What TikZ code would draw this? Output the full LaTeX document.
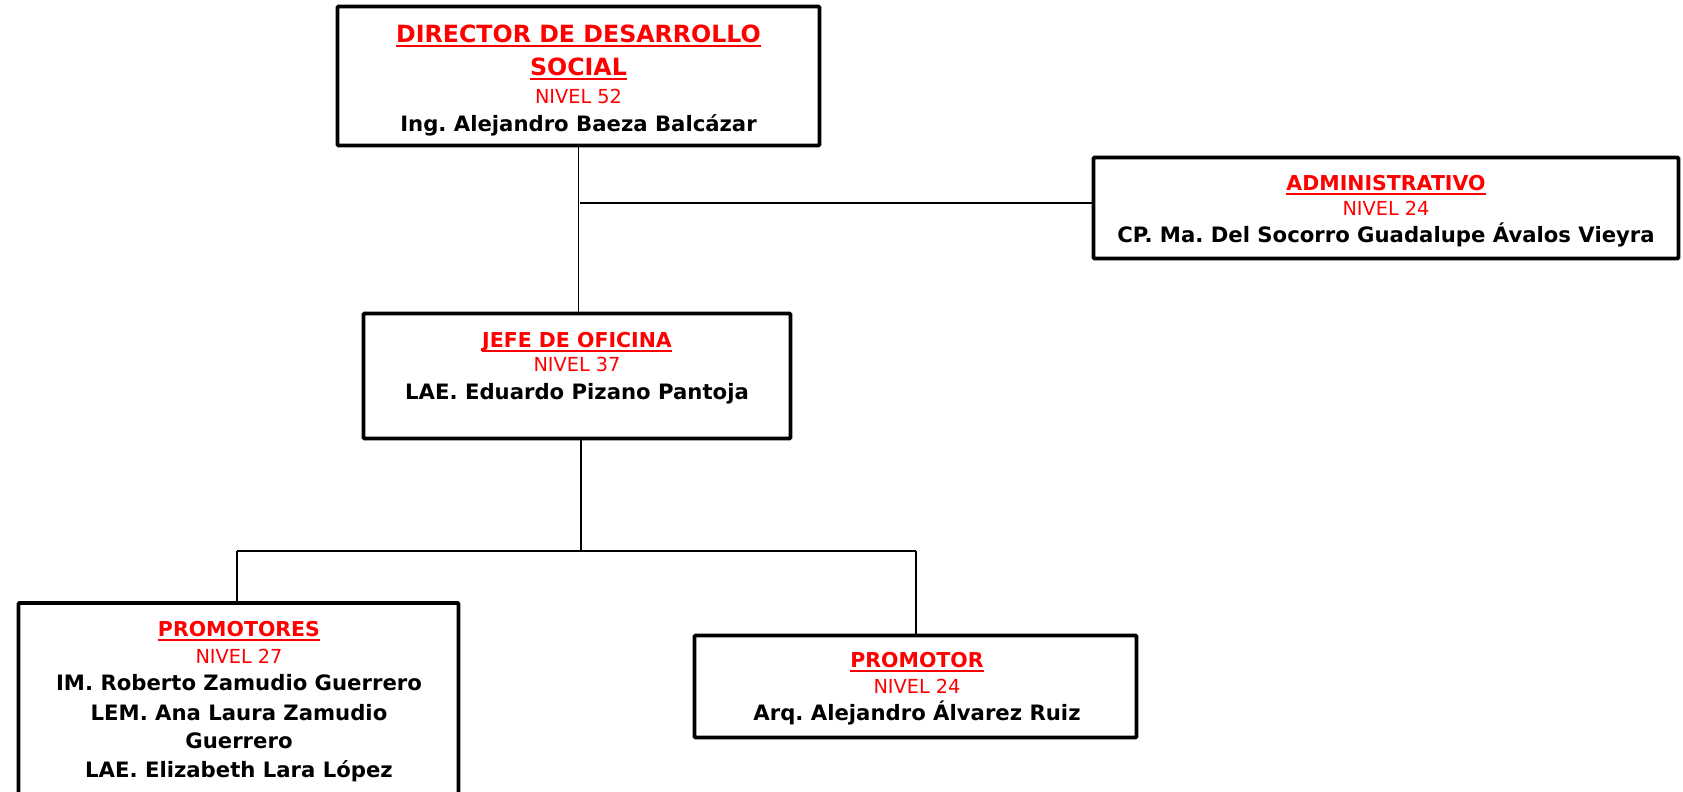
\documentclass[tikz,border=0pt]{standalone}
\usepackage{fontspec}
\setmainfont{DejaVu Sans}
\frenchspacing
\newcommand\ulred[1]{\sbox0{#1}\rlap{\rule[-4.5pt]{\wd0}{2pt}}\usebox0}
\begin{document}
\begin{tikzpicture}[x=1pt,y=-1pt,
  box/.style={draw, line width=3.8pt, rounded corners=1pt, inner sep=0pt},
  conn/.style={line width=1.3pt},
  ttl/.style={anchor=base, text=red, inner sep=0pt, font=\bfseries\fontsize{20.5}{21}\selectfont},
  bigttl/.style={anchor=base, text=red, inner sep=0pt, font=\bfseries\fontsize{23.7}{24}\selectfont},
  niv/.style={anchor=base, text=red, inner sep=0pt, font=\fontsize{19.3}{19}\selectfont},
  nm/.style={anchor=base, inner sep=0pt, font=\bfseries\fontsize{21.2}{21}\selectfont}]
\fill[white] (0,0) rectangle (1683,792);
\useasboundingbox (0,0) rectangle (1683,792);
\clip (0,0) rectangle (1683,792);

% boxes
\node[box, minimum width=482pt, minimum height=139pt] (dir) at (578.5,76) {};
\node[box, minimum width=585pt, minimum height=101pt] (adm) at (1386,208) {};
\node[box, minimum width=427pt, minimum height=125pt] (jefe) at (577,376) {};
\node[box, minimum width=440pt, minimum height=227pt] (promos) at (238.5,716.5) {};
\node[box, minimum width=442pt, minimum height=102pt] (promo) at (915.5,686.5) {};

% director
\node[bigttl] (dirT1) at (578.5,43) {\ulred{DIRECTOR DE DESARROLLO}};
\node[bigttl] (dirT2) at (578.5,75) {\ulred{SOCIAL}};
\node[niv] (dirN) at (578.5,103) {NIVEL 52};
\node[nm] (dirP) at (578.5,131) {Ing. Alejandro Baeza Balcázar};

% administrativo
\node[ttl] (admT) at (1386,190) {\ulred{ADMINISTRATIVO}};
\node[niv] (admN) at (1386,215) {NIVEL 24};
\node[nm] (admP) at (1386,242) {CP. Ma. Del Socorro Guadalupe Ávalos Vieyra};

% jefe
\node[ttl] (jefeT) at (577,347) {\ulred{JEFE DE OFICINA}};
\node[niv] (jefeN) at (577,371) {NIVEL 37};
\node[nm] (jefeP) at (577,399) {LAE. Eduardo Pizano Pantoja};

% promotores
\node[ttl] (prsT) at (239,636) {\ulred{PROMOTORES}};
\node[niv] (prsN) at (239,663) {NIVEL 27};
\node[nm] (prsP1) at (239,690) {IM. Roberto Zamudio Guerrero};
\node[nm] (prsP2) at (239,720) {LEM. Ana Laura Zamudio};
\node[nm] (prsP3) at (239,748) {Guerrero};
\node[nm] (prsP4) at (239,777) {LAE. Elizabeth Lara López};

% promotor
\node[ttl] (proT) at (917,667) {\ulred{PROMOTOR}};
\node[niv] (proN) at (917,693) {NIVEL 24};
\node[nm] (proP) at (917,720) {Arq. Alejandro Álvarez Ruiz};

% connectors
\draw[conn] ([yshift=3pt]dir.south) -- (dir.south |- jefe.north);
\coordinate (t1) at (580,203);
\draw[conn] (t1) -- (t1 -| adm.west);
\coordinate (bus) at (581,551);
\draw[conn] (bus |- jefe.south) -- (bus);
\coordinate (bl) at (237,551);
\coordinate (br) at (916,551);
\draw[conn] (bl) -- (br);
\draw[conn] (bl) -- (bl |- promos.north);
\draw[conn] (br) -- (br |- promo.north);
\end{tikzpicture}
\end{document}
